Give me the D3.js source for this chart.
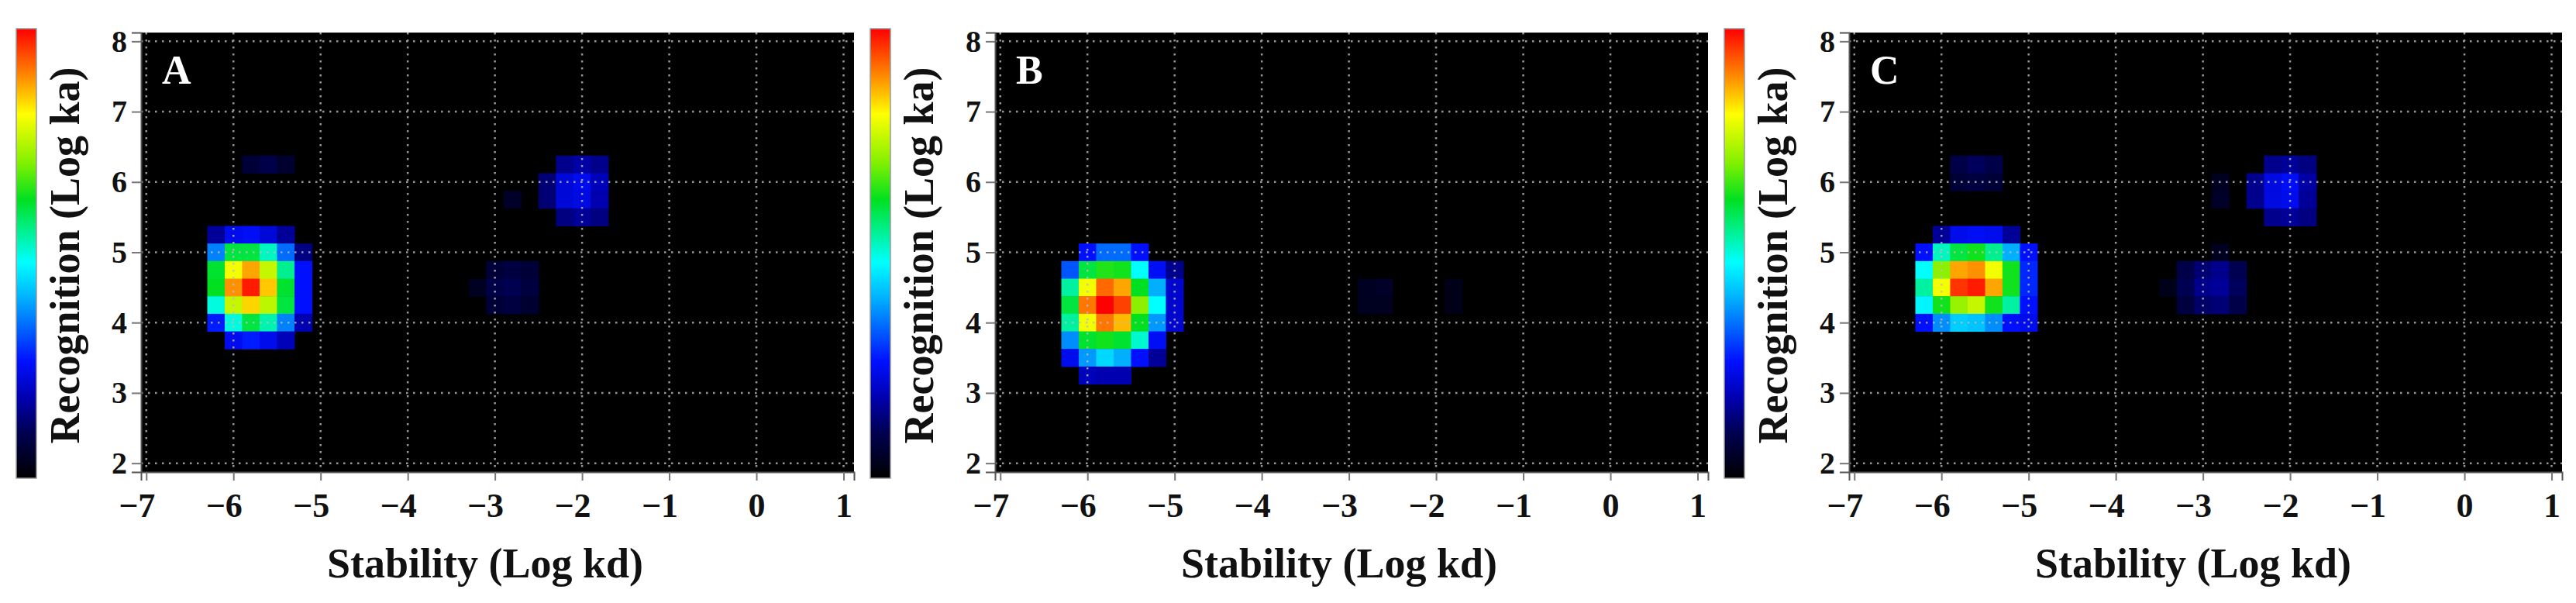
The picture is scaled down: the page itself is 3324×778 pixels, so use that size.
<!DOCTYPE html>
<html>
<head>
<meta charset="utf-8">
<script src="https://cdn.jsdelivr.net/npm/d3@7"></script>
<style>
  body { margin: 0; background: #fff; }
  svg { display: block; font-family: "Liberation Serif", "Times New Roman", serif; }
</style>
</head>
<body>
<svg></svg>
<script>
// axis ticks
const xTicks = [-7, -6, -5, -4, -3, -2, -1, 0, 1];
const yTicks = [2, 3, 4, 5, 6, 7, 8];
const panelLabels = ["A", "B", "C"];

// colour map (black -> blue -> cyan -> green -> yellow -> red)
const cmapStops = [0, 0.10, 0.18, 0.26, 0.33, 0.40, 0.48, 0.55, 0.62, 0.70, 0.81, 0.89, 1.0];
const cmapColors = ["#000000", "#000050", "#0000b0", "#0010ff", "#0060ff", "#00b0ff",
                    "#00ffff", "#00f090", "#00e020", "#80f000", "#ffff00", "#ff9000", "#ff0000"];

// cells: [log kd, log ka, relative density]
const cellsA = [
  [-6.2, 5.25, 0.16], [-6.0, 5.25, 0.24], [-5.8, 5.25, 0.25], [-5.6, 5.25, 0.22], [-5.4, 5.25, 0.16],
  [-6.2, 5.0, 0.36], [-6.0, 5.0, 0.60], [-5.8, 5.0, 0.60], [-5.6, 5.0, 0.52], [-5.4, 5.0, 0.34], [-5.2, 5.0, 0.14],
  [-6.2, 4.75, 0.61], [-6.0, 4.75, 0.80], [-5.8, 4.75, 0.875], [-5.6, 4.75, 0.76], [-5.4, 4.75, 0.55], [-5.2, 4.75, 0.26],
  [-6.2, 4.5, 0.62], [-6.0, 4.5, 0.89], [-5.8, 4.5, 0.98], [-5.6, 4.5, 0.85], [-5.4, 4.5, 0.61], [-5.2, 4.5, 0.26],
  [-6.2, 4.25, 0.50], [-6.0, 4.25, 0.76], [-5.8, 4.25, 0.84], [-5.6, 4.25, 0.75], [-5.4, 4.25, 0.60], [-5.2, 4.25, 0.26],
  [-6.2, 4.0, 0.27], [-6.0, 4.0, 0.50], [-5.8, 4.0, 0.60], [-5.6, 4.0, 0.53], [-5.4, 4.0, 0.36], [-5.2, 4.0, 0.18],
  [-6.0, 3.75, 0.24], [-5.8, 3.75, 0.27], [-5.6, 3.75, 0.24], [-5.4, 3.75, 0.19],
  [-5.8, 6.25, 0.07], [-5.6, 6.25, 0.09], [-5.4, 6.25, 0.06],
  [-2.2, 6.25, 0.15], [-2.0, 6.25, 0.17], [-1.8, 6.25, 0.15],
  [-2.4, 6.0, 0.13], [-2.2, 6.0, 0.22], [-2.0, 6.0, 0.24], [-1.8, 6.0, 0.19],
  [-2.4, 5.75, 0.13], [-2.2, 5.75, 0.22], [-2.0, 5.75, 0.23], [-1.8, 5.75, 0.18],
  [-2.2, 5.5, 0.14], [-2.0, 5.5, 0.16], [-1.8, 5.5, 0.14],
  [-2.8, 5.75, 0.05],
  [-3.0, 4.75, 0.07], [-2.8, 4.75, 0.08], [-2.6, 4.75, 0.07],
  [-3.2, 4.5, 0.04], [-3.0, 4.5, 0.09], [-2.8, 4.5, 0.10], [-2.6, 4.5, 0.08],
  [-3.0, 4.25, 0.07], [-2.8, 4.25, 0.08], [-2.6, 4.25, 0.06]
];

const cellsB = [
  [-6.0, 5.0, 0.26], [-5.8, 5.0, 0.34], [-5.6, 5.0, 0.34], [-5.4, 5.0, 0.26],
  [-6.2, 4.75, 0.32], [-6.0, 4.75, 0.60], [-5.8, 4.75, 0.64], [-5.6, 4.75, 0.63], [-5.4, 4.75, 0.48], [-5.2, 4.75, 0.25], [-5.0, 4.75, 0.15],
  [-6.2, 4.5, 0.54], [-6.0, 4.5, 0.80], [-5.8, 4.5, 0.92], [-5.6, 4.5, 0.875], [-5.4, 4.5, 0.62], [-5.2, 4.5, 0.40], [-5.0, 4.5, 0.21],
  [-6.2, 4.25, 0.60], [-6.0, 4.25, 0.91], [-5.8, 4.25, 1.0], [-5.6, 4.25, 0.95], [-5.4, 4.25, 0.71], [-5.2, 4.25, 0.48], [-5.0, 4.25, 0.21],
  [-6.2, 4.0, 0.54], [-6.0, 4.0, 0.80], [-5.8, 4.0, 0.91], [-5.6, 4.0, 0.86], [-5.4, 4.0, 0.62], [-5.2, 4.0, 0.38], [-5.0, 4.0, 0.21],
  [-6.2, 3.75, 0.37], [-6.0, 3.75, 0.61], [-5.8, 3.75, 0.63], [-5.6, 3.75, 0.61], [-5.4, 3.75, 0.51], [-5.2, 3.75, 0.25],
  [-6.2, 3.5, 0.24], [-6.0, 3.5, 0.38], [-5.8, 3.5, 0.44], [-5.6, 3.5, 0.40], [-5.4, 3.5, 0.26], [-5.2, 3.5, 0.16],
  [-6.0, 3.25, 0.19], [-5.8, 3.25, 0.18], [-5.6, 3.25, 0.18],
  [-2.8, 4.5, 0.04], [-2.6, 4.5, 0.05], [-2.8, 4.25, 0.04], [-2.6, 4.25, 0.04],
  [-1.8, 4.5, 0.03], [-1.8, 4.25, 0.03]
];

const cellsC = [
  [-6.0, 5.25, 0.16], [-5.8, 5.25, 0.24], [-5.6, 5.25, 0.25], [-5.4, 5.25, 0.24], [-5.2, 5.25, 0.16],
  [-6.2, 5.0, 0.26], [-6.0, 5.0, 0.52], [-5.8, 5.0, 0.60], [-5.6, 5.0, 0.63], [-5.4, 5.0, 0.55], [-5.2, 5.0, 0.40], [-5.0, 5.0, 0.26],
  [-6.2, 4.75, 0.48], [-6.0, 4.75, 0.71], [-5.8, 4.75, 0.875], [-5.6, 4.75, 0.89], [-5.4, 4.75, 0.80], [-5.2, 4.75, 0.63], [-5.0, 4.75, 0.28],
  [-6.2, 4.5, 0.54], [-6.0, 4.5, 0.80], [-5.8, 4.5, 0.96], [-5.6, 4.5, 0.98], [-5.4, 4.5, 0.875], [-5.2, 4.5, 0.63], [-5.0, 4.5, 0.28],
  [-6.2, 4.25, 0.47], [-6.0, 4.25, 0.63], [-5.8, 4.25, 0.72], [-5.6, 4.25, 0.76], [-5.4, 4.25, 0.63], [-5.2, 4.25, 0.54], [-5.0, 4.25, 0.26],
  [-6.2, 4.0, 0.26], [-6.0, 4.0, 0.37], [-5.8, 4.0, 0.43], [-5.6, 4.0, 0.42], [-5.4, 4.0, 0.37], [-5.2, 4.0, 0.26], [-5.0, 4.0, 0.24],
  [-5.8, 6.25, 0.09], [-5.6, 6.25, 0.11], [-5.4, 6.25, 0.09],
  [-5.8, 6.0, 0.07], [-5.6, 6.0, 0.08], [-5.4, 6.0, 0.07],
  [-2.2, 6.25, 0.15], [-2.0, 6.25, 0.16], [-1.8, 6.25, 0.14],
  [-2.4, 6.0, 0.15], [-2.2, 6.0, 0.23], [-2.0, 6.0, 0.25], [-1.8, 6.0, 0.17],
  [-2.4, 5.75, 0.15], [-2.2, 5.75, 0.23], [-2.0, 5.75, 0.24], [-1.8, 5.75, 0.16],
  [-2.2, 5.5, 0.15], [-2.0, 5.5, 0.16], [-1.8, 5.5, 0.14],
  [-2.8, 6.0, 0.04], [-2.8, 5.75, 0.05], [-2.8, 5.0, 0.04],
  [-3.2, 4.75, 0.09], [-3.0, 4.75, 0.13], [-2.8, 4.75, 0.15], [-2.6, 4.75, 0.10],
  [-3.4, 4.5, 0.03], [-3.2, 4.5, 0.10], [-3.0, 4.5, 0.15], [-2.8, 4.5, 0.16], [-2.6, 4.5, 0.11],
  [-3.2, 4.25, 0.08], [-3.0, 4.25, 0.12], [-2.8, 4.25, 0.13], [-2.6, 4.25, 0.09]
];

const panels = [cellsA, cellsB, cellsC];
const cellW = 0.2, cellH = 0.25;

const width = 3324, height = 778;
const panelOffset = [0, 1102, 2204];
const plotLeft = 182, plotW = 920, plotTop = 42, plotBottom = 609;
const cbLeft = 21, cbW = 26, cbTop = 37, cbBottom = 617;
const serif = '"Liberation Serif", "Times New Roman", serif';

const color = d3.scaleLinear().domain(cmapStops).range(cmapColors).clamp(true);

const x = d3.scaleLinear().domain([-7.06, 1.12]).range([0, plotW]);
const y = d3.scaleLinear().domain([1.875, 8.125]).range([plotBottom - plotTop, 0]);

const svg = d3.select('svg')
    .attr('width', width)
    .attr('height', height);

const defs = svg.append('defs');
const grad = defs.append('linearGradient')
    .attr('id', 'cmap')
    .attr('x1', 0).attr('y1', 1).attr('x2', 0).attr('y2', 0);
grad.selectAll('stop')
  .data(cmapStops)
  .join('stop')
    .attr('offset', d => d)
    .attr('stop-color', (d, i) => cmapColors[i]);

panels.forEach((cells, p) => {
  const g = svg.append('g')
      .attr('transform', `translate(${panelOffset[p]}, 0)`);

  // colour bar
  g.append('rect')
      .attr('x', cbLeft)
      .attr('y', cbTop)
      .attr('width', cbW)
      .attr('height', cbBottom - cbTop)
      .attr('fill', 'url(#cmap)')
      .attr('stroke', '#9a9a9a')
      .attr('stroke-width', 1.5);

  g.append('text')
      .attr('transform', `translate(${cbLeft + 81}, ${(plotTop + plotBottom) / 2 + 4}) rotate(-90)`)
      .attr('text-anchor', 'middle')
      .attr('font-size', 54)
      .attr('font-weight', 'bold')
      .attr('fill', '#111')
      .text('Recognition (Log ka)');

  const plot = g.append('g')
      .attr('transform', `translate(${plotLeft}, ${plotTop})`);

  plot.append('rect')
      .attr('width', plotW)
      .attr('height', plotBottom - plotTop)
      .attr('fill', '#000');

  plot.append('g')
    .selectAll('rect')
    .data(cells)
    .join('rect')
      .attr('x', d => x(d[0] - cellW / 2))
      .attr('y', d => y(d[1] + cellH / 2))
      .attr('width', x(cellW) - x(0) + 0.5)
      .attr('height', y(0) - y(cellH) + 0.5)
      .attr('fill', d => color(d[2]));

  // dotted grid on top of the density map
  const grid = plot.append('g')
      .attr('stroke', '#bdbdbd')
      .attr('stroke-width', 2.5)
      .attr('stroke-dasharray', '2.5,6.5')
      .attr('opacity', 0.8);
  grid.selectAll('.gx')
    .data(xTicks)
    .join('line')
      .attr('x1', d => x(d)).attr('x2', d => x(d))
      .attr('y1', 0).attr('y2', plotBottom - plotTop);
  grid.selectAll('.gy')
    .data(yTicks)
    .join('line')
      .attr('y1', d => y(d)).attr('y2', d => y(d))
      .attr('x1', 0).attr('x2', plotW);

  const xAxis = plot.append('g')
      .attr('transform', `translate(0, ${plotBottom - plotTop})`)
      .call(d3.axisBottom(x).tickValues(xTicks).tickFormat(d3.format('d')).tickSize(11).tickPadding(16));
  xAxis.selectAll('text')
      .attr('text-anchor', 'end')
      .attr('dx', '0.25em')
      .attr('font-size', 44)
      .attr('font-weight', 'bold')
      .attr('fill', '#111');

  const yAxis = plot.append('g')
      .call(d3.axisLeft(y).tickValues(yTicks).tickFormat(d3.format('d')).tickSize(12).tickPadding(6));
  yAxis.selectAll('text')
      .attr('font-size', 40)
      .attr('font-weight', 'bold')
      .attr('fill', '#111');

  [xAxis, yAxis].forEach(a => {
    a.attr('font-family', serif);
    a.select('.domain').attr('stroke', '#555').attr('stroke-width', 2);
    a.selectAll('.tick line').attr('stroke', '#777').attr('stroke-width', 2);
  });

  plot.append('text')
      .attr('x', 27)
      .attr('y', 108 - plotTop)
      .attr('font-size', 52)
      .attr('font-weight', 'bold')
      .attr('fill', '#fff')
      .text(panelLabels[p]);

  g.append('text')
      .attr('x', plotLeft + 444)
      .attr('y', 745)
      .attr('text-anchor', 'middle')
      .attr('font-size', 54)
      .attr('font-weight', 'bold')
      .attr('fill', '#111')
      .text('Stability (Log kd)');
});
</script>
</body>
</html>
